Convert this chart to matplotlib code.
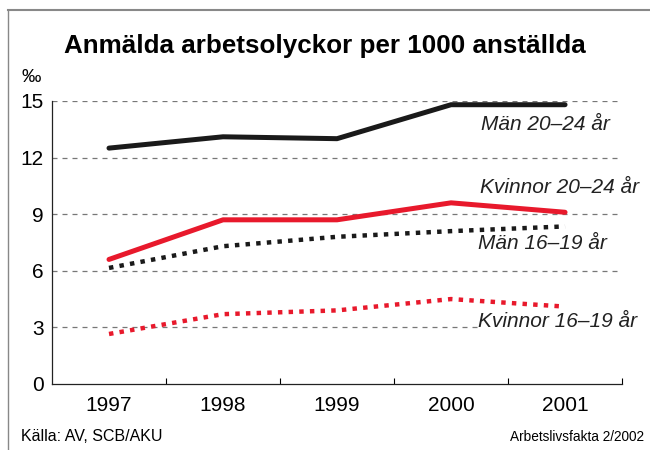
import matplotlib.pyplot as plt
from matplotlib.lines import Line2D

plt.rcParams["font.family"] = ["Liberation Sans", "DejaVu Sans"]

years = ["1997", "1998", "1999", "2000", "2001"]
man_20_24 = [12.5, 13.1, 13.0, 14.8, 14.8]
kvinnor_20_24 = [6.6, 8.7, 8.7, 9.6, 9.1]
man_16_19 = [6.15, 7.3, 7.8, 8.1, 8.35]
kvinnor_16_19 = [2.65, 3.7, 3.9, 4.5, 4.1]
yticks = [0, 3, 6, 9, 12, 15]

red = "#e8192c"
black = "#1a1a1a"

fig = plt.figure(figsize=(6.5, 4.5), dpi=100)
ax = fig.add_axes([0.08, 0.1467, 0.877, 0.629])
x = range(len(years))

ax.plot(x, man_20_24, color=black, lw=3.6, solid_capstyle="round", zorder=3)
ax.plot(x, kvinnor_20_24, color=red, lw=3.6, solid_capstyle="round", zorder=3)
ax.plot(x, man_16_19, color=black, lw=3.2, linestyle=(0, (1, 1.4)),
        dash_capstyle="butt", zorder=3)
ax.plot(x, kvinnor_16_19, color=red, lw=3.2, linestyle=(0, (1, 1.4)),
        dash_capstyle="butt", zorder=3)

ax.set_xlim(-0.5, 4.5)
ax.set_ylim(0, 15)
ax.set_xticks(list(x))
ax.set_xticklabels(years, fontsize=15)
ax.set_xticks([0.5, 1.5, 2.5, 3.5, 4.5], minor=True)
ax.tick_params(axis="x", which="major", length=0, pad=9)
ax.tick_params(axis="x", which="minor", direction="in", length=4, width=0.8)
ax.set_yticks(yticks)
ax.set_yticklabels([str(v) for v in yticks], fontsize=15)
ax.tick_params(axis="y", length=0, pad=6)
for v in yticks[1:]:
    ax.axhline(v, color="#777777", lw=0.9, linestyle=(0, (4, 4)), zorder=1)

for s in ["top", "right"]:
    ax.spines[s].set_visible(False)
for s in ["left", "bottom"]:
    ax.spines[s].set_linewidth(0.9)
    ax.spines[s].set_color("#222222")

lab = dict(fontsize=15, style="italic", color="#222222", va="center",
           zorder=2, bbox=dict(facecolor="white", edgecolor="none", pad=0))
ax.text(3.26, 13.73, "Män 20–24 år", **lab)
ax.text(3.25, 10.39, "Kvinnor 20–24 år", **lab)
ax.text(3.24, 7.47, "Män 16–19 år", **lab)
ax.text(3.24, 3.29, "Kvinnor 16–19 år", **lab)

fig.text(0.5, 0.897, "Anmälda arbetsolyckor per 1000 anställda",
         ha="center", va="center", fontsize=18.7, fontweight="bold")
fig.text(0.033, 0.827, "‰", fontsize=14, va="center")
fig.text(0.033, 0.031, "Källa: AV, SCB/AKU", fontsize=11.5, va="center")
fig.text(0.99, 0.029, "Arbetslivsfakta 2/2002", fontsize=9.8, ha="right",
         va="center")

# frame lines
fig.add_artist(Line2D([0.012, 1.0], [0.978, 0.978], color="#888888", lw=1.5))
fig.add_artist(Line2D([0.012, 0.012], [0.0, 0.978], color="#888888", lw=1.0))

fig.savefig("out.png", dpi=100)
